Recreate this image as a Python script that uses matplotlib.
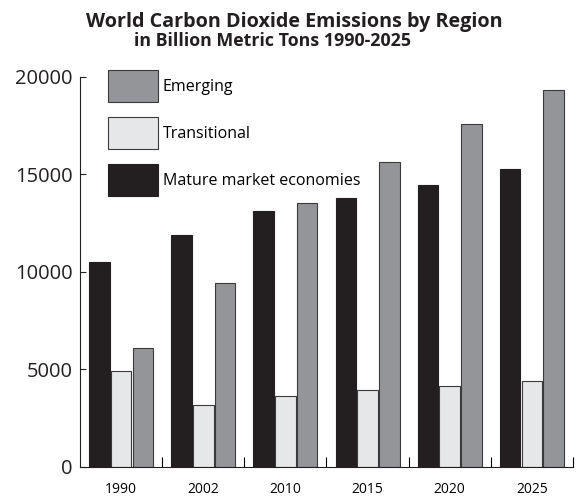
import numpy as np
import matplotlib
matplotlib.use("Agg")
import matplotlib.pyplot as plt

plt.rcParams['font.family'] = ['Open Sans', 'DejaVu Sans']

# emissions, billion metric tons
years = ['1990', '2002', '2010', '2015', '2020', '2025']
mature = [10500, 11900, 13100, 13800, 14450, 15250]
transitional = [4900, 3150, 3650, 3950, 4150, 4400]
emerging = [6100, 9400, 13500, 15650, 17550, 19300]

C_MATURE = '#231f20'
C_TRANS = '#e6e7e8'
C_EMERG = '#939598'
EDGE = '#231f20'

fig = plt.figure(figsize=(5.77, 4.98), dpi=100)
ax = fig.add_axes([80/577, 1-466.7/498, 493/577, 390/498])

x = np.arange(len(years))
w = 0.25
off = 0.265
b_mat = ax.bar(x - off, mature, w, color=C_MATURE, edgecolor=EDGE, lw=0.8,
               label='Mature market economies')
b_tr = ax.bar(x, transitional, w, color=C_TRANS, edgecolor='#3a3a3c', lw=0.8,
              label='Transitional')
b_em = ax.bar(x + off, emerging, w, color=C_EMERG, edgecolor='#3a3a3c', lw=0.8,
              label='Emerging')

ax.set_xlim(-0.5, len(years) - 0.5)
ax.set_ylim(0, 20000)
ax.set_yticks([0, 5000, 10000, 15000, 20000])
ax.tick_params(axis='y', direction='in', length=4.5, width=0.8, pad=5.5,
               labelsize=14.5, colors='#231f20')

# group separators on the x axis, year labels in the group centres
ax.set_xticks(np.arange(len(years)) + 0.5)
ax.set_xticklabels([])
ax.tick_params(axis='x', direction='in', length=7, width=0.8)
ax.set_xticks(x, minor=True)
ax.set_xticklabels(years, minor=True, fontsize=10)
ax.tick_params(axis='x', which='minor', length=0, pad=11)

for s in ('top', 'right'):
    ax.spines[s].set_visible(False)
for s in ('left', 'bottom'):
    ax.spines[s].set_linewidth(0.8)
    ax.spines[s].set_color('#231f20')

ax.legend(handles=[b_em, b_tr, b_mat], loc='upper left',
          bbox_to_anchor=(108/577, 1-70/498), bbox_transform=fig.transFigure,
          frameon=False, fontsize=11.5, handlelength=3.13, handleheight=2.7,
          labelspacing=0.94, handletextpad=0.31, borderpad=0, borderaxespad=0)

fig.text(294/577, 1-22.5/498, 'World Carbon Dioxide Emissions by Region',
         ha='center', va='center', fontsize=14.2, fontweight='bold', color='#231f20')
fig.text(273/577, 1-41/498, 'in Billion Metric Tons 1990-2025',
         ha='center', va='center', fontsize=12.8, fontweight='bold', color='#231f20')

fig.savefig('out.png', dpi=100)
